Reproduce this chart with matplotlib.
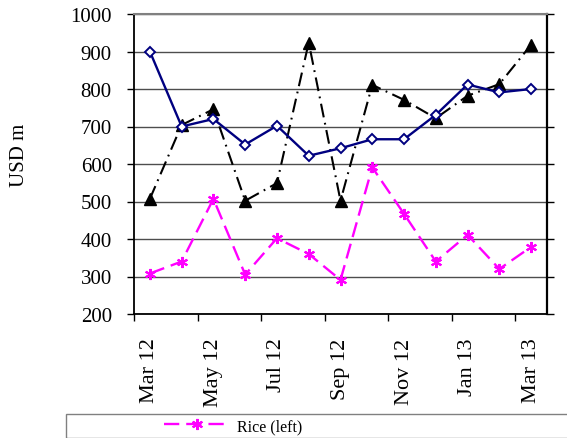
import matplotlib
matplotlib.use("Agg")
import matplotlib.pyplot as plt
from matplotlib.patches import Rectangle

plt.rcParams['font.family'] = ['Liberation Serif', 'DejaVu Serif']
plt.rcParams['lines.scale_dashes'] = False

# Monthly values, Mar 12 .. Mar 13 (USD m)
months = ["Mar 12", "Apr 12", "May 12", "Jun 12", "Jul 12", "Aug 12", "Sep 12",
          "Oct 12", "Nov 12", "Dec 12", "Jan 13", "Feb 13", "Mar 13"]
navy_series = [900, 700, 720, 652, 702, 622, 642, 666, 666, 731, 812, 791, 800]
black_series = [507, 704, 746, 502, 549, 924, 502, 811, 771, 722, 782, 813, 918]
rice = [308, 340, 507, 305, 402, 360, 291, 591, 467, 340, 411, 320, 379]

yticks = [200, 300, 400, 500, 600, 700, 800, 900, 1000]

fig = plt.figure(figsize=(5.67, 4.39), dpi=100)
ax = fig.add_axes([134/567, 1 - 315/439, 413/567, 300/439])

x = list(range(len(months)))

ax.plot(x, black_series, color="black", lw=1.5, dashes=[10, 4, 1.3, 4],
        marker="^", ms=8, mfc="black", mec="black", zorder=3)
ax.plot(x, navy_series, color="#000080", lw=1.7, marker="D", ms=5.5,
        mfc="white", mec="#000080", mew=1.4, zorder=4)
rice_line, = ax.plot(x, rice, color="#ff00ff", lw=1.7, dashes=[11, 5],
                     marker=(6, 2, 0), ms=8, mec="#ff00ff", mew=1.5, zorder=5)

ax.set_xlim(-0.5, len(months) - 0.5)
ax.set_ylim(200, 1000)
ax.set_yticks(yticks)
ax.yaxis.grid(True, color="#4d4d4d", lw=1)
ax.set_axisbelow(True)

# category-style x axis: tick marks at boundaries, labels every 2nd month
ax.set_xticks([i - 0.5 for i in range(0, len(months), 2)])
ax.set_xticklabels([])
ax.set_xticks(x[::2], minor=True)
ax.set_xticklabels(months[::2], minor=True, rotation=90, fontsize=16)
ax.tick_params(axis="x", which="major", length=5, direction="out", width=1)
ax.tick_params(axis="x", which="minor", length=0, pad=17)
ax.tick_params(axis="y", which="major", length=5, direction="out", width=1,
               pad=11, labelsize=15, right=True, labelright=False)

for side in ["left", "bottom"]:
    ax.spines[side].set_linewidth(1.3)
ax.spines["right"].set_linewidth(1.6)
ax.spines["top"].set_color("#808080")
ax.spines["top"].set_linewidth(1.5)

fig.text(19/567, 1 - 155/439, "USD m", rotation=90, ha="center", va="center",
         fontsize=15)

# legend box, mostly cut off at the bottom of the image
fig.patches.append(Rectangle((66/567, 0), 1.0, 1 - 415/439,
                             transform=fig.transFigure, fill=False,
                             edgecolor="#808080", lw=1, clip_on=False))
fig.legend([rice_line], ["Rice (left)"], loc="center left",
           bbox_to_anchor=(156/567, 1 - 427/439), frameon=False, borderpad=0,
           handlelength=4.1, handletextpad=0.5, fontsize=11.5)

fig.savefig("out.png", dpi=100)
